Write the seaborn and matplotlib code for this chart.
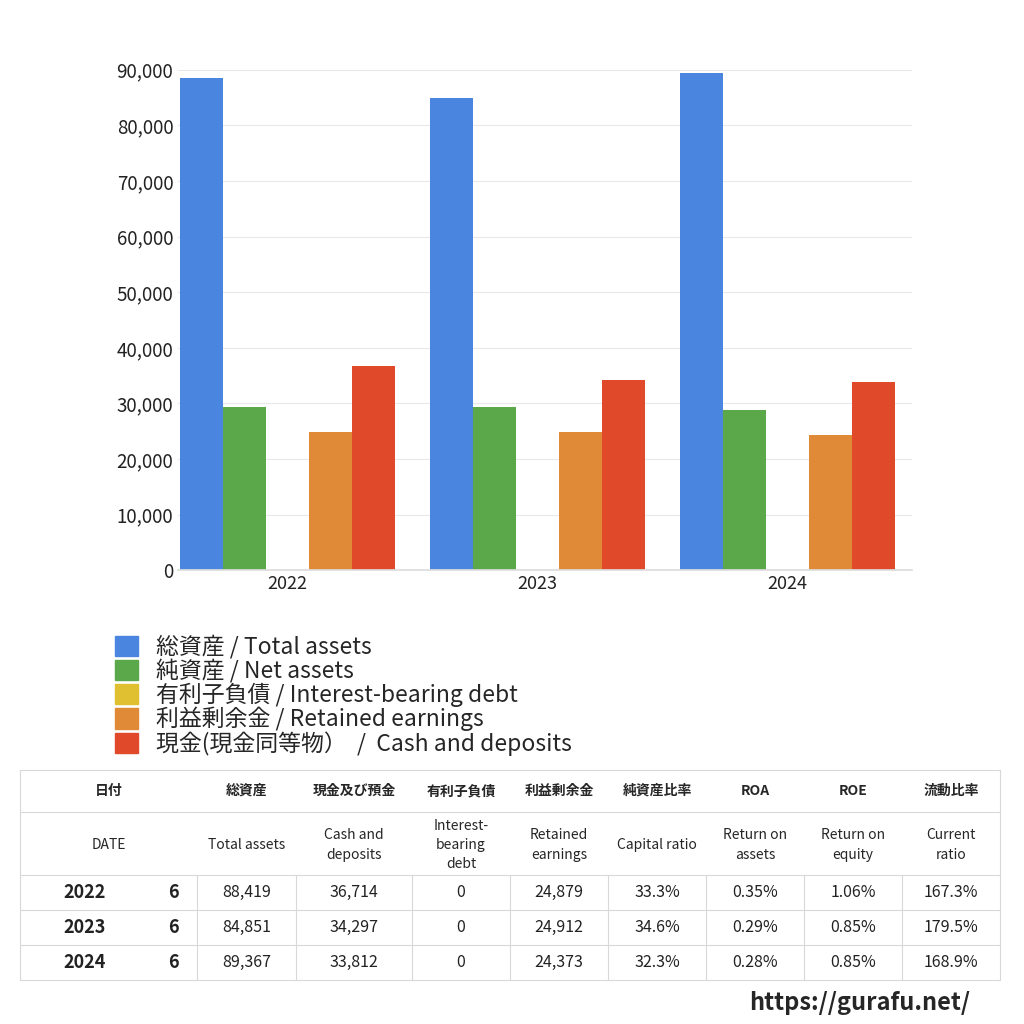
import matplotlib
matplotlib.use("Agg")
import matplotlib.pyplot as plt
import seaborn as sns
import pandas as pd
from matplotlib.lines import Line2D
from matplotlib.patches import Patch

years = ["2022", "2023", "2024"]
series = ["総資産 / Total assets", "純資産 / Net assets", "有利子負債 / Interest-bearing debt",
          "利益剰余金 / Retained earnings", "現金(現金同等物）  /  Cash and deposits"]
total_assets = [88419, 84851, 89367]
net_assets = [29443, 29358, 28866]
debt = [0, 0, 0]
retained = [24879, 24912, 24373]
cash = [36714, 34297, 33812]
colors = ["#4a86e0", "#5aa84a", "#e0c030", "#e08a38", "#e04a2a"]

months = ["6", "6", "6"]
tbl_cash = ["36,714", "34,297", "33,812"]
cap_ratio = ["33.3%", "34.6%", "32.3%"]
roa = ["0.35%", "0.29%", "0.28%"]
roe = ["1.06%", "0.85%", "0.85%"]
cur_ratio = ["167.3%", "179.5%", "168.9%"]
hdr_jp = ["日付", "", "総資産", "現金及び預金", "有利子負債", "利益剰余金", "純資産比率", "ROA", "ROE", "流動比率"]
hdr_en = ["DATE", "", "Total assets", "Cash and\ndeposits", "Interest-\nbearing\ndebt", "Retained\nearnings",
          "Capital ratio", "Return on\nassets", "Return on\nequity", "Current\nratio"]

sns.set_theme(style="white")
plt.rcParams['font.family'] = ['Noto Sans CJK JP', 'DejaVu Sans']

rows = []
for i, y in enumerate(years):
    for s, vals in zip(series, [total_assets, net_assets, debt, retained, cash]):
        rows.append({"year": y, "series": s, "value": vals[i]})
df = pd.DataFrame(rows)

fig = plt.figure(figsize=(10.24, 10.24), dpi=100)
ax = fig.add_axes([0.174, 0.443, 0.717, 0.489])
sns.barplot(data=df, x="year", y="value", hue="series", palette=colors, width=0.86,
            saturation=1, linewidth=0, ax=ax, legend=False)
ax.set_xlim(-0.436, 2.5)
ax.set_ylim(0, 90000)
ax.set_yticks(range(0, 90001, 10000))
ax.set_yticklabels([f"{v:,}" for v in range(0, 90001, 10000)], fontsize=13.5, color="#222")
ax.tick_params(axis="x", labelsize=13, colors="#222", length=0)
ax.tick_params(axis="y", length=0)
ax.set_xlabel(""); ax.set_ylabel("")
ax.grid(axis="y", color="#e8e8e8", lw=0.8)
ax.set_axisbelow(True)
for sp in ["top", "right", "left"]:
    ax.spines[sp].set_visible(False)
ax.spines["bottom"].set_color("#ddd")

handles = [Patch(color=c) for c in colors]
fig.legend(handles, series, loc="upper left", bbox_to_anchor=(0.092, 0.40), frameon=False,
           fontsize=16.5, handlelength=1.0, handleheight=1.0, labelspacing=0.0, handletextpad=0.8)

# table
W = 1024
xs = [20, 150, 197, 296, 412, 510, 608, 706, 804, 902, 1000]
ys = [770, 812, 875, 910, 945, 980]
def fx(x): return x / W
def fy(y): return 1 - y / W
lc = "#d8d8d8"
for y in ys:
    fig.add_artist(Line2D([fx(20), fx(1000)], [fy(y), fy(y)], color=lc, lw=0.8))
for x in xs:
    if x == 150:
        continue
    top = ys[0] if x in (20, 1000) else ys[2]
    fig.add_artist(Line2D([fx(x), fx(x)], [fy(top), fy(ys[-1])], color=lc, lw=0.8))
for j in range(10):
    if j == 1:
        continue
    cx = (xs[j] + xs[j + 1]) / 2
    if j == 0:
        cx = (xs[0] + xs[2]) / 2
    fig.text(fx(cx), fy(791), hdr_jp[j], ha="center", va="center", fontsize=10, weight="bold")
    fig.text(fx(cx), fy(845), hdr_en[j], ha="center", va="center", fontsize=10, linespacing=1.5)
for i in range(3):
    cy = (ys[2 + i] + ys[3 + i]) / 2
    vals = [years[i], months[i], f"{total_assets[i]:,}", tbl_cash[i], str(debt[i]), f"{retained[i]:,}",
            cap_ratio[i], roa[i], roe[i], cur_ratio[i]]
    for j, v in enumerate(vals):
        cx = (xs[j] + xs[j + 1]) / 2
        bold = j < 2
        fig.text(fx(cx), fy(cy), v, ha="center", va="center", fontsize=13 if bold else 11.5,
                 weight="bold" if bold else "normal", color="#222")
fig.text(fx(970), fy(1003), "https://gurafu.net/", ha="right", va="center", fontsize=17, weight="bold")

fig.savefig("out.png", dpi=100)
